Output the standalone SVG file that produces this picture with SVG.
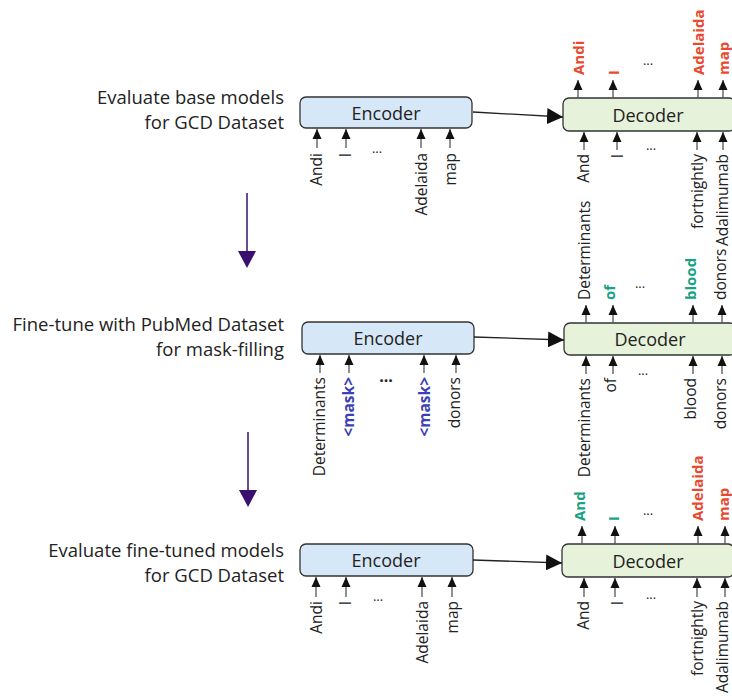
<svg xmlns="http://www.w3.org/2000/svg" width="732" height="698" viewBox="0 0 732 698">
<defs>
<marker id="sa" markerUnits="userSpaceOnUse" markerWidth="10" markerHeight="10" viewBox="0 0 10 10" refX="10" refY="5" orient="auto">
<path d="M0,0.5 L10,5 L0,9.5 Z" fill="#111"/>
</marker>
<marker id="ba" markerUnits="userSpaceOnUse" markerWidth="16" markerHeight="16" viewBox="0 0 16 16" refX="16" refY="8" orient="auto">
<path d="M0,0 L16,8 L0,16 Z" fill="#111"/>
</marker>
</defs>
<style>
text{font-family:"Open Sans","Noto Sans","Liberation Sans",sans-serif;fill:#222}
.lab{font-size:18.5px;text-anchor:end}
.enc{fill:#d6e8f8;stroke:#333;stroke-width:1.3}
.dec{fill:#e6f2d9;stroke:#333;stroke-width:1.3}
.bt{font-size:18px;text-anchor:middle;dominant-baseline:central}
.sh line{stroke:#555;stroke-width:1.3;marker-end:url(#sa)}
.tk{font-size:15.5px;dominant-baseline:central}
.in{text-anchor:end}
.out{text-anchor:start;font-weight:bold;font-size:15px}
.dots{font-size:13px;text-anchor:middle}
.r{fill:#e84a2f}
.g{fill:#17a383}
.b{fill:#3c3fb5;font-weight:bold}
.k{font-weight:normal;font-size:15.5px}
.big{stroke:#222;stroke-width:1.3;fill:none;marker-end:url(#ba)}
</style>

<g id="step-labels">
<text class="lab" x="284" y="104">Evaluate base models</text>
<text class="lab" x="284" y="129">for GCD Dataset</text>
<text class="lab" x="284" y="331">Fine-tune with PubMed Dataset</text>
<text class="lab" x="284" y="356">for mask-filling</text>
<text class="lab" x="284" y="557">Evaluate fine-tuned models</text>
<text class="lab" x="284" y="582">for GCD Dataset</text>
</g>

<g id="flow-arrows">
<line x1="247" y1="193" x2="247" y2="252" stroke="#3a0f6e" stroke-width="1.5"/>
<polygon points="238,251 256,251 247,268" fill="#3a0f6e"/>
<line x1="248" y1="432" x2="248" y2="491" stroke="#3a0f6e" stroke-width="1.5"/>
<polygon points="239,490 257,490 248,507" fill="#3a0f6e"/>
</g>

<!-- Panel 1 -->
<g id="encoder1">
<rect class="enc" x="300" y="97" width="172" height="31" rx="6"/>
<text class="bt" x="386" y="113">Encoder</text>
<g class="sh">
<line x1="317" y1="148" x2="317" y2="129"/><line x1="346" y1="148" x2="346" y2="129"/>
<line x1="421" y1="148" x2="421" y2="129"/><line x1="450" y1="148" x2="450" y2="129"/>
</g>
<text class="tk in" transform="translate(316,153) rotate(-90)">Andi</text>
<text class="tk in" transform="translate(345,153) rotate(-90)">I</text>
<text class="dots" x="377" y="153">...</text>
<text class="tk in" transform="translate(421,153) rotate(-90)">Adelaida</text>
<text class="tk in" transform="translate(450,153) rotate(-90)">map</text>
</g>
<g id="decoder1">
<rect class="dec" x="563" y="98" width="172" height="33" rx="6"/>
<text class="bt" x="648" y="115">Decoder</text>
<g class="sh">
<line x1="578" y1="98" x2="578" y2="80"/><line x1="613" y1="98" x2="613" y2="80"/>
<line x1="698" y1="98" x2="698" y2="80"/><line x1="723" y1="98" x2="723" y2="80"/>
</g>
<text class="tk out r" transform="translate(578,75) rotate(-90)">Andi</text>
<text class="tk out r" transform="translate(613,75) rotate(-90)">I</text>
<text class="dots" x="648" y="65">...</text>
<text class="tk out r" transform="translate(698,75) rotate(-90)">Adelaida</text>
<text class="tk out r" transform="translate(723,75) rotate(-90)">map</text>
<g class="sh">
<line x1="584" y1="150" x2="584" y2="132"/><line x1="617" y1="150" x2="617" y2="132"/>
<line x1="697" y1="150" x2="697" y2="132"/><line x1="723" y1="150" x2="723" y2="132"/>
</g>
<text class="tk in" transform="translate(583,154) rotate(-90)">And</text>
<text class="tk in" transform="translate(617,154) rotate(-90)">I</text>
<text class="dots" x="651" y="150">...</text>
<text class="tk in" transform="translate(697,154) rotate(-90)">fortnightly</text>
<text class="tk in" transform="translate(722,154) rotate(-90)">Adalimumab</text>
</g>

<!-- Panel 2 -->
<g id="encoder2">
<rect class="enc" x="302" y="322" width="172" height="32" rx="6"/>
<text class="bt" x="388" y="338">Encoder</text>
<g class="sh">
<line x1="320" y1="373" x2="320" y2="355"/><line x1="349" y1="373" x2="349" y2="355"/>
<line x1="424" y1="373" x2="424" y2="355"/><line x1="456" y1="373" x2="456" y2="355"/>
</g>
<text class="tk in" transform="translate(319,377) rotate(-90)">Determinants</text>
<text class="tk in b" transform="translate(348,377) rotate(-90)">&lt;mask&gt;</text>
<text class="dots" x="386" y="382" style="font-weight:bold;font-size:16px">...</text>
<text class="tk in b" transform="translate(424,377) rotate(-90)">&lt;mask&gt;</text>
<text class="tk in" transform="translate(454,377) rotate(-90)">donors</text>
</g>
<g id="decoder2">
<rect class="dec" x="564" y="323" width="172" height="32" rx="6"/>
<text class="bt" x="650" y="339">Decoder</text>
<g class="sh">
<line x1="586" y1="323" x2="586" y2="305"/><line x1="613" y1="323" x2="613" y2="305"/>
<line x1="693" y1="323" x2="693" y2="305"/><line x1="722" y1="323" x2="722" y2="305"/>
</g>
<text class="tk out k" transform="translate(584,300) rotate(-90)">Determinants</text>
<text class="tk out g" transform="translate(609,300) rotate(-90)">of</text>
<text class="dots" x="640" y="288">...</text>
<text class="tk out g" transform="translate(690,300) rotate(-90)">blood</text>
<text class="tk out k" transform="translate(720,300) rotate(-90)">donors</text>
<g class="sh">
<line x1="586" y1="374" x2="586" y2="356"/><line x1="613" y1="374" x2="613" y2="356"/>
<line x1="693" y1="374" x2="693" y2="356"/><line x1="722" y1="374" x2="722" y2="356"/>
</g>
<text class="tk in" transform="translate(584,378) rotate(-90)">Determinants</text>
<text class="tk in" transform="translate(610,378) rotate(-90)">of</text>
<text class="dots" x="643" y="375">...</text>
<text class="tk in" transform="translate(690,378) rotate(-90)">blood</text>
<text class="tk in" transform="translate(720,378) rotate(-90)">donors</text>
</g>

<!-- Panel 3 -->
<g id="encoder3">
<rect class="enc" x="300" y="544" width="173" height="32" rx="6"/>
<text class="bt" x="386" y="560">Encoder</text>
<g class="sh">
<line x1="316" y1="597" x2="316" y2="577"/><line x1="346" y1="597" x2="346" y2="577"/>
<line x1="422" y1="597" x2="422" y2="577"/><line x1="452" y1="597" x2="452" y2="577"/>
</g>
<text class="tk in" transform="translate(316,601) rotate(-90)">Andi</text>
<text class="tk in" transform="translate(345,601) rotate(-90)">I</text>
<text class="dots" x="378" y="601">...</text>
<text class="tk in" transform="translate(422,601) rotate(-90)">Adelaida</text>
<text class="tk in" transform="translate(452,601) rotate(-90)">map</text>
</g>
<g id="decoder3">
<rect class="dec" x="562" y="544" width="172" height="33" rx="6"/>
<text class="bt" x="648" y="561">Decoder</text>
<g class="sh">
<line x1="582" y1="544" x2="582" y2="526"/><line x1="615" y1="544" x2="615" y2="526"/>
<line x1="698" y1="544" x2="698" y2="526"/><line x1="725" y1="544" x2="725" y2="526"/>
</g>
<text class="tk out g" transform="translate(579,521) rotate(-90)">And</text>
<text class="tk out g" transform="translate(613,521) rotate(-90)">I</text>
<text class="dots" x="648" y="515">...</text>
<text class="tk out r" transform="translate(697,521) rotate(-90)">Adelaida</text>
<text class="tk out r" transform="translate(723,521) rotate(-90)">map</text>
<g class="sh">
<line x1="584" y1="597" x2="584" y2="578"/><line x1="615" y1="597" x2="615" y2="578"/>
<line x1="697" y1="597" x2="697" y2="578"/><line x1="725" y1="597" x2="725" y2="578"/>
</g>
<text class="tk in" transform="translate(583,601) rotate(-90)">And</text>
<text class="tk in" transform="translate(617,601) rotate(-90)">I</text>
<text class="dots" x="651" y="599">...</text>
<text class="tk in" transform="translate(697,601) rotate(-90)">fortnightly</text>
<text class="tk in" transform="translate(722,601) rotate(-90)">Adalimumab</text>
</g>

<g id="connectors">
<path class="big" d="M473,112 L563,117"/>
<path class="big" d="M474,337 L564,340"/>
<path class="big" d="M473,560 L562,563"/>
</g>
</svg>
